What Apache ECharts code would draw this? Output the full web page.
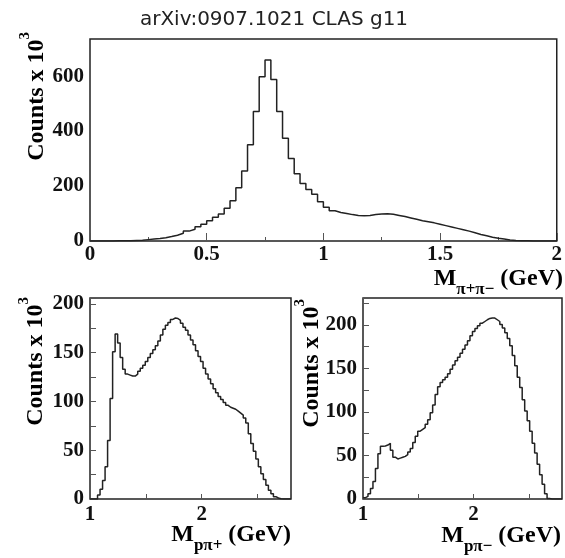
<!DOCTYPE html>
<html>
<head>
<meta charset="utf-8">
<script src="https://cdn.jsdelivr.net/npm/echarts@6/dist/echarts.min.js"></script>
<style>
  html, body { margin: 0; padding: 0; background: #fff; }
  #chart { width: 565px; height: 558px; }
</style>
</head>
<body>
<div id="chart"></div>
<script>
// pi+ pi- invariant mass spectrum, 80 bins of 0.025 GeV starting at 0 (counts x 10^3)
const pipiLow = 0.0;
const pipiBin = 0.025;
const pipiCounts = [
  0, 0, 0, 0, 0.5, 1, 1, 2, 3, 5,
  7, 9, 12, 16, 21, 28, 36, 43, 52, 61,
  74, 86, 98, 119, 146, 194, 255, 350, 471, 598,
  659, 588, 471, 374, 300, 245, 209, 187, 170, 143,
  123, 110, 104, 100, 96, 93, 92, 93, 96, 98,
  99, 97, 93, 89, 84, 79, 74, 70, 66, 61,
  56, 51, 46, 41, 36, 30, 24, 19, 14, 10,
  7, 4, 2, 1, 0.5, 0, 0, 0, 0, 0
];

// p pi+ and p pi- invariant mass spectra, 80 bins of 0.0225 GeV starting at 1 GeV
const ppiLow = 1.0;
const ppiBin = 0.0225;
const ppipCounts = [
  0, 0, 0, 4, 10, 19, 33, 60, 103, 151,
  169, 160, 145, 133, 128, 127, 126, 126, 128, 131,
  134, 137, 141, 145, 149, 153, 157, 162, 168, 174,
  178, 181, 184, 185.5, 185, 183, 180, 176, 173, 168,
  163, 158, 152, 146, 141, 134, 128, 123, 118, 113,
  109, 105, 102, 99, 96, 94, 93, 92, 90, 88,
  86, 83, 78, 67, 57, 49, 41, 33, 26, 20,
  14, 9, 5.5, 2.4, 1, 0.3, 0, 0, 0, 0
];
const ppimCounts = [
  1.5, 3, 6, 12, 20, 35, 52, 60.5, 61, 62,
  64, 56, 48, 46, 47, 48, 49, 51, 54, 58,
  65, 72, 78, 80, 82, 86, 91, 99, 108, 120,
  129, 134, 137, 140, 144, 149, 154, 159, 163, 167.5,
  172, 177, 182, 187.5, 192.6, 196, 199, 202, 204, 206,
  207.5, 208, 208, 206, 204, 200.5, 196.5, 191, 184.5, 176,
  165, 153, 140, 128, 114, 101, 90, 78, 64, 53,
  40, 28, 17, 6, 0.5, 0, 0, 0, 0, 0
];

// Labelled tick values for each axis
const pipiXLabels = [0, 0.5, 1, 1.5, 2];
const pipiYLabels = [0, 200, 400, 600];
const ppiXLabels = [1, 2];
const ppipYLabels = [0, 50, 100, 150, 200];
const ppimYLabels = [0, 50, 100, 150, 200];

// Bin edges -> step-line points (one point per left edge plus the closing right edge)
function histPoints(low, width, counts) {
  const pts = counts.map((c, i) => [low + i * width, c]);
  pts.push([low + counts.length * width, counts[counts.length - 1]]);
  return pts;
}

function onlyListed(list) {
  return function (v) {
    for (const t of list) { if (Math.abs(t - v) < 1e-6) return String(t); }
    return '';
  };
}

const INK = '#111';
const SERIF = '"Liberation Serif", "Times New Roman", serif';
const tickFont = { fontFamily: SERIF, fontWeight: 'bold', fontSize: 21, color: INK };

const frame = { show: true, borderColor: '#222', borderWidth: 1.5, backgroundColor: 'transparent' };

function xAxisDef(grid, min, max, interval, labels, tickLen, minor, margin) {
  return {
    type: 'value', gridIndex: grid, min: min, max: max, interval: interval,
    axisLine: { show: false },
    axisTick: { show: true, inside: true, length: tickLen, lineStyle: { color: '#555', width: 1 } },
    minorTick: minor ? { show: true, splitNumber: 2, length: 4, lineStyle: { color: '#555', width: 1 } } : { show: false },
    splitLine: { show: false },
    axisLabel: Object.assign({ margin: margin, formatter: onlyListed(labels), showMinLabel: true, showMaxLabel: true }, tickFont)
  };
}

function yAxisDef(grid, max, interval, labels, showTicks) {
  return {
    type: 'value', gridIndex: grid, min: 0, max: max, interval: interval,
    axisLine: { show: false },
    axisTick: { show: showTicks, inside: true, length: 6, lineStyle: { color: '#555', width: 1 } },
    splitLine: { show: false },
    axisLabel: Object.assign({ margin: 6, formatter: onlyListed(labels) }, tickFont)
  };
}

function histSeries(idx, low, width, counts) {
  return {
    type: 'line', xAxisIndex: idx, yAxisIndex: idx, step: 'end',
    data: histPoints(low, width, counts),
    showSymbol: false, symbol: 'none',
    lineStyle: { color: '#222', width: 1.5 },
    clip: true, animation: false, silent: true
  };
}

const titleRich = {
  m: { fontFamily: SERIF, fontWeight: 'bold', fontSize: 24, lineHeight: 38, color: INK },
  sub: { fontFamily: SERIF, fontWeight: 'bold', fontSize: 17, color: INK, verticalAlign: 'bottom' },
  sup: { fontFamily: SERIF, fontWeight: 'bold', fontSize: 15, color: INK, verticalAlign: 'top' }
};

function xTitle(x, y, sub) {
  return {
    type: 'text', x: x, y: y, silent: true,
    style: { text: '{m|M}{sub|' + sub + '}{m| (GeV)}', rich: titleRich, align: 'right', verticalAlign: 'middle' }
  };
}
function yTitle(x, y) {
  return {
    type: 'text', x: x, y: y, rotation: Math.PI / 2, silent: true,
    style: { text: '{m|Counts x 10}{sup|3}', rich: titleRich, align: 'right', verticalAlign: 'middle' }
  };
}

const chart = echarts.init(document.getElementById('chart'), null, { renderer: 'canvas' });
chart.setOption({
  animation: false,
  backgroundColor: '#fff',
  grid: [
    Object.assign({ left: 90, top: 39, width: 473, height: 202 }, frame),
    Object.assign({ left: 90, top: 298, width: 201, height: 201 }, frame),
    Object.assign({ left: 363, top: 298, width: 200, height: 201 }, frame)
  ],
  xAxis: [
    xAxisDef(0, 0, 2, 0.5, pipiXLabels, 8, true, 3),
    xAxisDef(1, 1, 2.8, 0.5, ppiXLabels, 5, false, 5),
    xAxisDef(2, 1, 2.8, 0.5, ppiXLabels, 5, false, 5)
  ],
  yAxis: [
    yAxisDef(0, 735, 200, pipiYLabels, false),
    yAxisDef(1, 206, 25, ppipYLabels, true),
    yAxisDef(2, 231, 25, ppimYLabels, true)
  ],
  series: [
    histSeries(0, pipiLow, pipiBin, pipiCounts),
    histSeries(1, ppiLow, ppiBin, ppipCounts),
    histSeries(2, ppiLow, ppiBin, ppimCounts)
  ],
  graphic: [
    {
      type: 'text', x: 274, y: 20, silent: true,
      style: { text: 'arXiv:0907.1021 CLAS g11', font: '20px "DejaVu Sans", Inter, sans-serif', fill: '#222', align: 'center', verticalAlign: 'middle' }
    },
    yTitle(37, 32),
    yTitle(36, 297),
    yTitle(312, 299),
    xTitle(563, 279, 'π+π−'),
    xTitle(291, 535, 'pπ+'),
    xTitle(561, 536, 'pπ−')
  ]
});
</script>
</body>
</html>
